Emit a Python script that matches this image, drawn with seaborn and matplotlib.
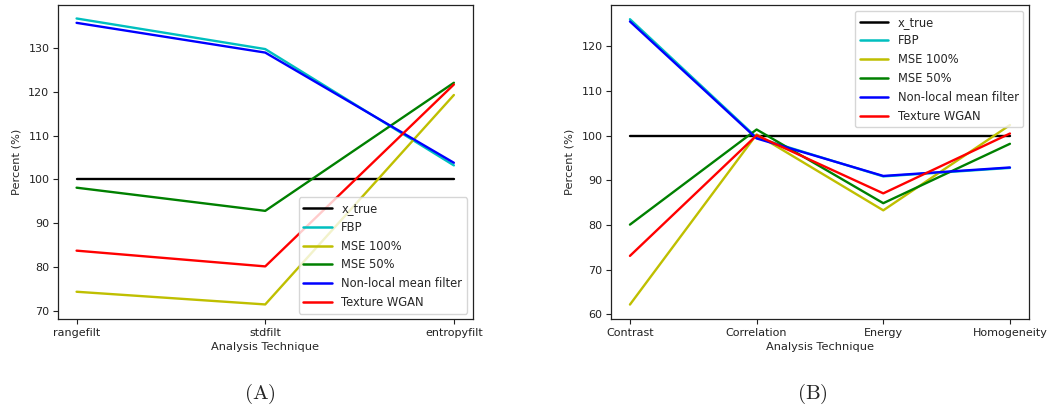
import matplotlib
matplotlib.use("Agg")
import matplotlib.pyplot as plt
import seaborn as sns
import pandas as pd

# Series names and their line colours
methods = ["x_true", "FBP", "MSE 100%", "MSE 50%", "Non-local mean filter", "Texture WGAN"]
colors = ["k", "c", "y", "g", "b", "r"]

# Panel A: filter-based analysis
filters = ["rangefilt", "stdfilt", "entropyfilt"]
filt_x_true = [100.0, 100.0, 100.0]
filt_fbp = [136.8, 129.8, 103.2]
filt_mse100 = [74.3, 71.4, 119.3]
filt_mse50 = [98.1, 92.8, 122.1]
filt_nlm = [135.8, 129.0, 103.8]
filt_wgan = [83.7, 80.1, 121.7]

# Panel B: GLCM texture features
features = ["Contrast", "Correlation", "Energy", "Homogeneity"]
glcm_x_true = [100.0, 100.0, 100.0, 100.0]
glcm_fbp = [126.1, 99.6, 90.9, 92.8]
glcm_mse100 = [62.2, 100.3, 83.3, 102.4]
glcm_mse50 = [80.1, 101.4, 84.9, 98.2]
glcm_nlm = [125.6, 99.4, 91.0, 92.9]
glcm_wgan = [73.1, 100.1, 87.1, 100.5]


def long_form(categories, series):
    rows = []
    for name, vals in zip(methods, series):
        for cat, v in zip(categories, vals):
            rows.append({"technique": cat, "percent": v, "method": name})
    return pd.DataFrame(rows)


df_a = long_form(filters, [filt_x_true, filt_fbp, filt_mse100, filt_mse50, filt_nlm, filt_wgan])
df_b = long_form(features, [glcm_x_true, glcm_fbp, glcm_mse100, glcm_mse50, glcm_nlm, glcm_wgan])

sns.set_style("ticks")
plt.rcParams["font.family"] = ["DejaVu Sans"]
plt.rcParams["mathtext.fontset"] = "cm"

fig = plt.figure(figsize=(10.55, 4.12), dpi=100)
ax_a = fig.add_axes([0.0547, 0.225, 0.3934, 0.762])
ax_b = fig.add_axes([0.5791, 0.225, 0.3962, 0.762])

palette = dict(zip(methods, colors))

for ax, df, ylim, loc, caption, cx in [
    (ax_a, df_a, (68.0, 139.8), "lower right", r"$\mathrm{(A)}$", 0.2465),
    (ax_b, df_b, (58.9, 129.2), "upper right", r"$\mathrm{(B)}$", 0.7705),
]:
    sns.lineplot(data=df, x="technique", y="percent", hue="method",
                 hue_order=methods, palette=palette, linewidth=1.7,
                 sort=False, ax=ax)
    ax.set_ylim(*ylim)
    ax.margins(x=0.05)
    ax.set_xlabel("Analysis Technique", fontsize=8.2, labelpad=3)
    ax.set_ylabel("Percent (%)", fontsize=8.2, labelpad=5)
    ax.tick_params(labelsize=8, length=3.5, width=0.8, pad=2.5, colors="#222222")
    for side in ["top", "right", "left", "bottom"]:
        ax.spines[side].set_visible(True)
        ax.spines[side].set_color("#222222")
        ax.spines[side].set_linewidth(0.9)
    leg = ax.legend(loc=loc, fontsize=8.3, frameon=True, handlelength=2.5,
                    borderpad=0.4, labelspacing=0.5, borderaxespad=0.5)
    for line in leg.get_lines():
        line.set_linewidth(1.8)
    fig.text(cx, 0.045, caption, ha="center", va="center", fontsize=15)

fig.savefig("out.png", dpi=100, facecolor="white")
